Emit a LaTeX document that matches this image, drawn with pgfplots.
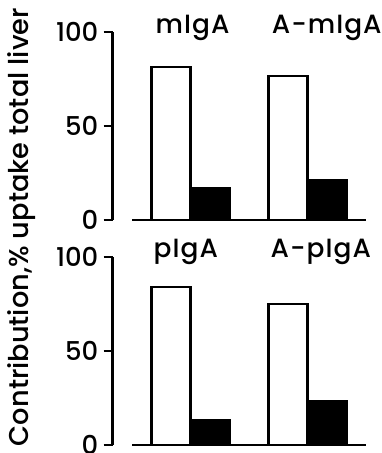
\documentclass[border=0pt]{standalone}
\usepackage{fontspec}
\setmainfont{Poppins}[UprightFont=* Medium]
\newfontfamily\titlefont[UprightFont=* Medium, LetterSpace=4]{Poppins}
\newfontfamily\labelfont[UprightFont=* Medium, LetterSpace=0]{Poppins}
\usepackage{pgfplots}
\pgfplotsset{compat=1.18}
\pgfplotsset{
 panel/.style={
  scale only axis, width=253.5bp, height=188bp,
  xmin=-0.5, xmax=6, ymin=0, ymax=100,
  axis x line=none, axis y line=left,
  y axis line style={-, line width=2.8bp, black},
  ytick={0,50,100}, xtick=\empty,
  tick align=outside, major tick length=9bp,
  major tick style={line width=2.8bp, black},
  yticklabel style={font=\fontsize{26}{26}\selectfont, inner sep=0pt, xshift=-5bp},
  /pgf/number format/assume math mode=true,
  clip=false, anchor=south west,
 },
 wbar/.style={ybar, bar width=39bp, bar shift=0pt, draw=black, fill=white, line width=2.6bp},
 bbar/.style={ybar, bar width=39bp, bar shift=0pt, draw=black, fill=black, line width=2.6bp},
}
\tikzset{ttl/.style={anchor=base west, inner sep=0pt, font=\titlefont\fontsize{26.5}{26.5}\selectfont}}
\begin{document}
\begin{tikzpicture}
\useasboundingbox (0,0) rectangle (382bp,453bp);
% top panel
\begin{axis}[panel, at={(112.5bp,233bp)}]
\addplot[sharp plot, line width=2.8bp, black, mark=none] coordinates {(0,0) (6,0)};
\addplot[wbar] coordinates {(1,81.3) (4,76.6)};
\addplot[bbar] coordinates {(2,16.6) (5,21.3)};
\node[ttl] at (axis cs:0.6,99.2) {mIgA};
\node[ttl] at (axis cs:3.58,99.2) {A-mIgA};
\end{axis}
% bottom panel
\begin{axis}[panel, at={(112.5bp,8bp)}]
\addplot[sharp plot, line width=2.8bp, black, mark=none] coordinates {(0,0) (6,0)};
\addplot[wbar] coordinates {(1,84.0) (4,75.1)};
\addplot[bbar] coordinates {(2,13.3) (5,23.1)};
\node[ttl] at (axis cs:0.55,99.5) {pIgA};
\node[ttl] at (axis cs:3.55,99.5) {A-pIgA};
\end{axis}
\node[rotate=90, anchor=base, inner sep=0pt, font=\labelfont\fontsize{27.3}{27.3}\selectfont] at (28bp,226bp) {Contribution,\% uptake total liver};
\end{tikzpicture}
\end{document}
